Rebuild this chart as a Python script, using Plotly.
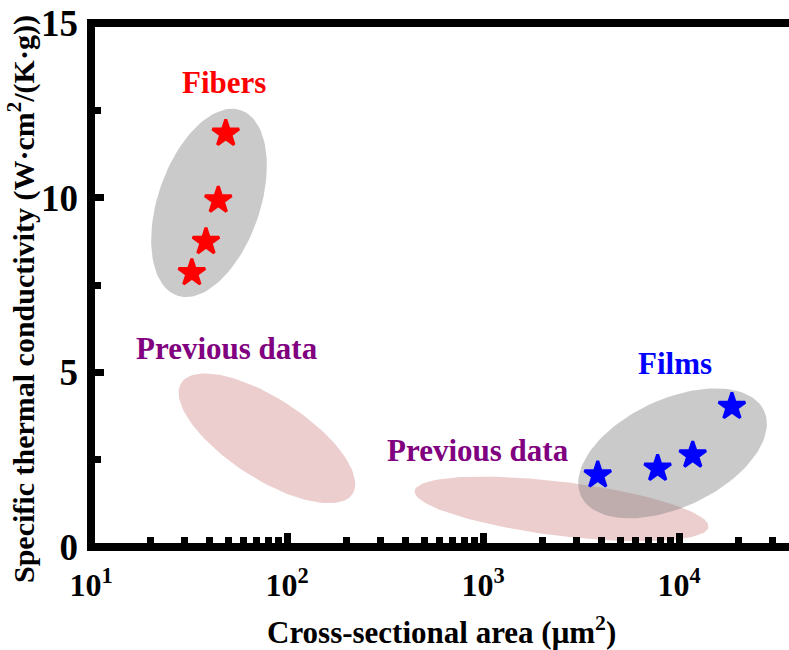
import numpy as np
import plotly.graph_objects as go

# ---------------- data ----------------
fiber_area = [32.7, 38.6, 44.6, 48.7]
fiber_k = [7.85, 8.74, 9.93, 11.84]
film_area = [3850, 7780, 11750, 18620]
film_k = [2.06, 2.25, 2.63, 4.02]

x_tickvals = [10, 100, 1000, 10000]
x_ticktext = ["10<sup>1</sup>", "10<sup>2</sup>", "10<sup>3</sup>", "10<sup>4</sup>"]
x_minor = [m * d for d in (10, 100, 1000, 10000) for m in range(2, 10)]
y_tickvals = [0, 5, 10, 15]
y_minor = [2.5, 7.5, 12.5]

# ---------------- layout constants ----------------
W, H = 789, 650
ML, MR, MT, MB = 91, 0, 23, 103
PW, PH = W - ML - MR, H - MT - MB
XLOG_MIN = 1.0
XLOG_MAX = 1.0 + PW / 196.0
YMIN, YMAX = 0, 15
PX_DEC = PW / (XLOG_MAX - XLOG_MIN)
PX_UNIT = PH / (YMAX - YMIN)

FONT = "Liberation Serif, Times New Roman, serif"


def ellipse(cx, cy, a, b, ang_deg, n=120):
    """ellipse centred at data (cx, cy) with semi-axes a, b in pixels"""
    t = np.linspace(0, 2 * np.pi, n)
    th = np.radians(ang_deg)
    dx = a * np.cos(t) * np.cos(th) - b * np.sin(t) * np.sin(th)
    dy = a * np.cos(t) * np.sin(th) + b * np.sin(t) * np.cos(th)
    u = np.log10(cx) + dx / PX_DEC
    y = cy + dy / PX_UNIT
    return 10 ** u, y


PINK = "rgba(180,60,60,0.25)"
GRAY = "rgba(128,128,128,0.42)"

fig = go.Figure()

for (cx, cy, a, b, ang, col) in [
    (79, 3.11, 102, 40, -33, PINK),
    (2515, 1.09, 148, 27, -7, PINK),
    (40, 9.85, 98, 51, 71, GRAY),
    (9270, 2.68, 101, 54, 25, GRAY),
]:
    ex, ey = ellipse(cx, cy, a, b, ang)
    fig.add_trace(go.Scatter(x=ex, y=ey, mode="lines", fill="toself",
                             fillcolor=col, line=dict(width=0),
                             hoverinfo="skip", showlegend=False))

fig.add_trace(go.Scatter(x=fiber_area, y=fiber_k, mode="markers",
                         marker=dict(symbol="star", size=20, color="#ff0000",
                                     line=dict(color="#ff0000", width=3)),
                         showlegend=False))
fig.add_trace(go.Scatter(x=film_area, y=film_k, mode="markers",
                         marker=dict(symbol="star", size=20, color="#0000ff",
                                     line=dict(color="#0000ff", width=3)),
                         showlegend=False))


def px2paper(px, py):
    return (px - ML) / PW, (H - MB - py) / PH


annots = [
    ("Fibers", 223.5, 83, "#ff0000"),
    ("Previous data", 227, 348, "#800080"),
    ("Films", 674.5, 363, "#0000ff"),
    ("Previous data", 478.5, 450, "#800080"),
]
for txt, px, py, col in annots:
    ax_, ay_ = px2paper(px, py)
    fig.add_annotation(x=ax_, y=ay_, xref="paper", yref="paper", text="<b>" + txt + "</b>",
                       showarrow=False, xanchor="center", yanchor="middle",
                       font=dict(family=FONT, size=31, color=col))

# axis titles
tx, ty = px2paper(441, 630)
fig.add_annotation(x=tx, y=ty, xref="paper", yref="paper",
                   text="<b>Cross-sectional area (μm<sup>2</sup>)</b>", showarrow=False,
                   xanchor="center", yanchor="middle",
                   font=dict(family=FONT, size=31, color="black"))
tx, ty = px2paper(21, 299)
fig.add_annotation(x=tx, y=ty, xref="paper", yref="paper",
                   text="<b>Specific thermal conductivity (W·cm<sup>2</sup>/(K·g))</b>",
                   showarrow=False, textangle=-90, xanchor="center", yanchor="middle",
                   font=dict(family=FONT, size=30, color="black"))

# frame lines (left, bottom, top)
LW = 8
ex_x = (LW / 2) / PW
ex_y = (LW / 2) / PH
for x0, y0, x1, y1 in [(0, -ex_y, 0, 1 + ex_y), (-ex_x, 0, 1.02, 0), (-ex_x, 1, 1.02, 1)]:
    fig.add_shape(type="line", xref="paper", yref="paper", x0=x0, y0=y0, x1=x1, y1=y1,
                  line=dict(color="black", width=LW), layer="above")

fig.update_xaxes(type="log", range=[XLOG_MIN, XLOG_MAX], showgrid=False, zeroline=False,
                 showline=False, tickmode="array", tickvals=x_tickvals,
                 ticktext=["<b>" + t + "</b>" for t in x_ticktext],
                 ticks="inside", ticklen=14, tickwidth=7, tickcolor="black",
                 tickfont=dict(family=FONT, size=32, color="black"),
                 ticklabelstandoff=16, automargin=False,
                 minor=dict(tickmode="array", tickvals=x_minor, ticks="inside",
                            ticklen=10, tickwidth=7, tickcolor="black", showgrid=False))
fig.update_yaxes(range=[YMIN, YMAX], showgrid=False, zeroline=False, showline=False,
                 tickmode="array", tickvals=y_tickvals,
                 ticktext=["<b>%d</b>" % v for v in y_tickvals],
                 ticks="inside", ticklen=13, tickwidth=7, tickcolor="black",
                 tickfont=dict(family=FONT, size=37, color="black"),
                 ticklabelstandoff=12, automargin=False,
                 minor=dict(tickmode="array", tickvals=y_minor, ticks="inside",
                            ticklen=10, tickwidth=7, tickcolor="black", showgrid=False))

fig.update_layout(width=W, height=H,
                  margin=dict(l=ML, r=MR, t=MT, b=MB, autoexpand=False),
                  plot_bgcolor="white", paper_bgcolor="white", showlegend=False)

fig.write_html("out.html", config={"displayModeBar": False},
               post_script="document.body.style.margin='0';document.body.style.overflow='hidden';")
